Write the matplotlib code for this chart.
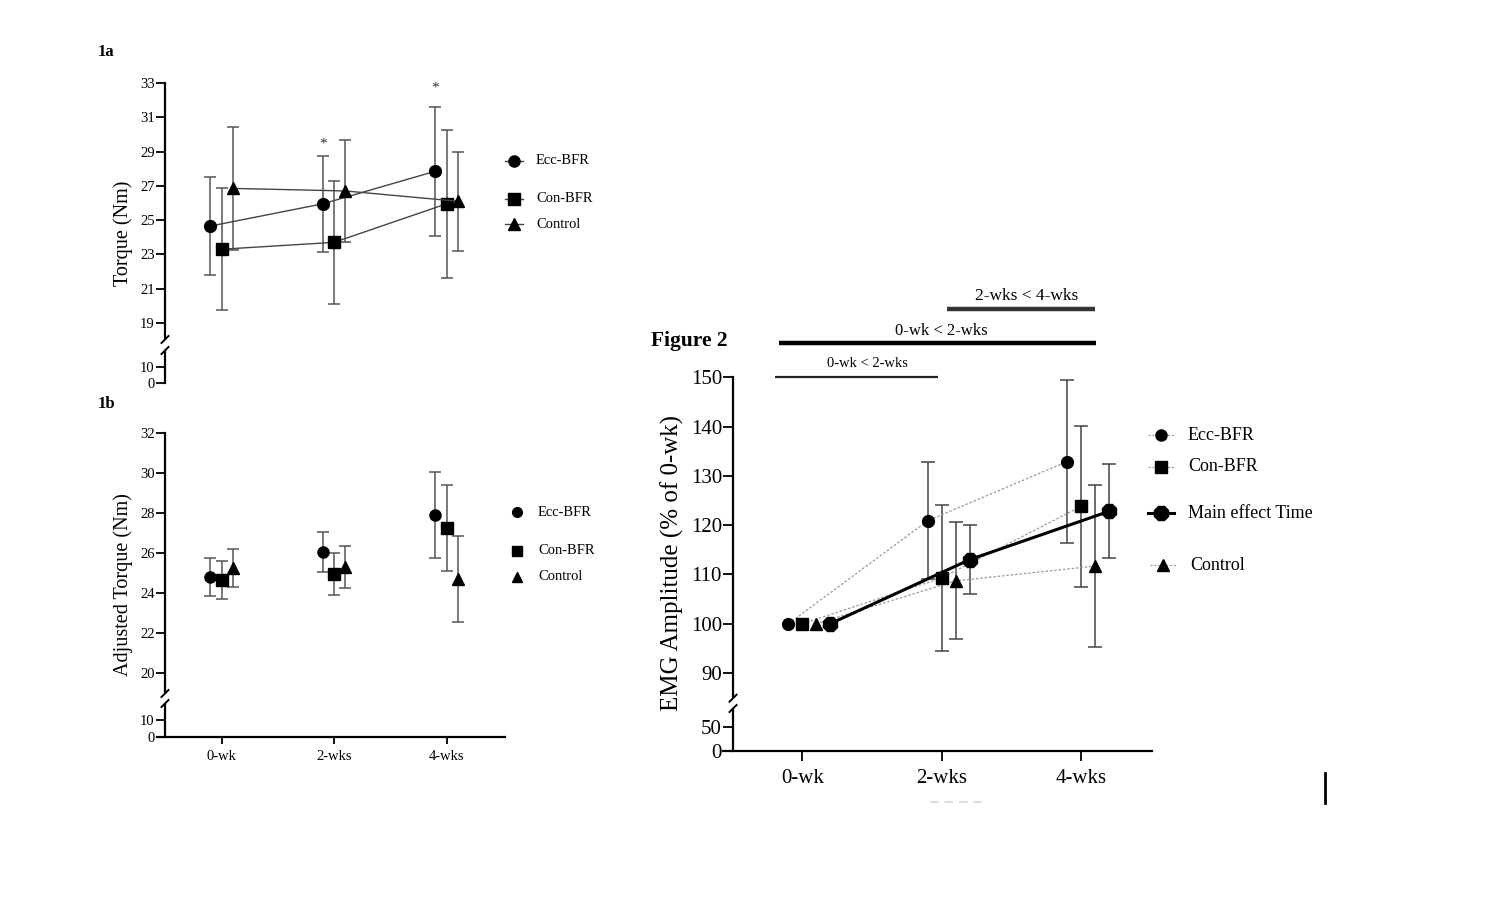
import numpy as np
import matplotlib.pyplot as plt
from matplotlib.lines import Line2D

plt.rcParams['font.family'] = ['Liberation Serif', 'DejaVu Serif']

W, H = 1490, 908

weeks = ['0-wk', '2-wks', '4-wks']
groups = ['Ecc-BFR', 'Con-BFR', 'Control']
markers = ['o', 's', '^']

# 1a  torque (Nm), mean and SD
ecc_torque = [24.65, 25.95, 27.85]
con_torque = [23.3, 23.7, 25.95]
ctrl_torque = [26.85, 26.7, 26.1]
ecc_torque_sd = [2.85, 2.8, 3.75]
con_torque_sd = [3.55, 3.6, 4.3]
ctrl_torque_sd = [3.6, 3.0, 2.9]

# 1b  adjusted torque (Nm)
ecc_adj = [24.8, 26.05, 27.9]
con_adj = [24.65, 24.95, 27.25]
ctrl_adj = [25.25, 25.3, 24.7]
ecc_adj_sd = [0.95, 1.02, 2.15]
con_adj_sd = [0.95, 1.05, 2.15]
ctrl_adj_sd = [0.95, 1.03, 2.15]

# figure 2  EMG amplitude (% of 0-wk)
ecc_emg = [100, 120.9, 132.9]
con_emg = [100, 109.3, 123.8]
ctrl_emg = [100, 108.7, 111.7]
main_emg = [100, 113.0, 122.8]
ecc_emg_sd = [0, 11.9, 16.6]
con_emg_sd = [0, 14.85, 16.4]
ctrl_emg_sd = [0, 11.85, 16.4]
main_emg_sd = [0, 6.95, 9.55]

sig_labels = ['0-wk < 2-wks', '0-wk < 2-wks', '2-wks < 4-wks']

fig = plt.figure(figsize=(W / 100, H / 100), dpi=100)


def px_axes(left, top, right, bottom):
    return fig.add_axes([left / W, 1 - bottom / H, (right - left) / W, (bottom - top) / H])


def fx(px):
    return px / W


def fy(py):
    return 1 - py / H


def broken_pair(left, right, top, brk_hi, brk_lo, bottom, upper_lim, lower_lim,
                xlim, spine_x, show_x, fs, tlen):
    up = px_axes(left, top, right, brk_hi)
    lo = px_axes(left, brk_lo, right, bottom)
    for ax in (up, lo):
        ax.set_xlim(xlim)
        ax.patch.set_alpha(0)
        ax.spines['top'].set_visible(False)
        ax.spines['right'].set_visible(False)
        ax.spines['left'].set_position(('data', spine_x))
        ax.spines['left'].set_linewidth(1.6)
        ax.spines['bottom'].set_linewidth(1.6)
        ax.tick_params(axis='y', length=tlen, width=1.3, pad=1, labelsize=fs)
        ax.tick_params(axis='x', length=tlen, width=1.3, pad=4, labelsize=fs)
    up.set_ylim(upper_lim)
    lo.set_ylim(lower_lim)
    up.spines['bottom'].set_visible(False)
    up.tick_params(bottom=False, labelbottom=False)
    if not show_x:
        lo.spines['bottom'].set_visible(False)
        lo.tick_params(bottom=False, labelbottom=False)
    # break marks
    ppx = (right - left) / (xlim[1] - xlim[0])
    ppy_up = (brk_hi - top) / (upper_lim[1] - upper_lim[0])
    ppy_lo = (bottom - brk_lo) / (lower_lim[1] - lower_lim[0])
    dx = 3.5 / ppx
    up.plot([spine_x - dx, spine_x + dx], [upper_lim[0] - 5 / ppy_up, upper_lim[0] + 2 / ppy_up],
            color='k', lw=1.4, clip_on=False)
    lo.plot([spine_x - dx, spine_x + dx], [lower_lim[1] - 2 / ppy_lo, lower_lim[1] + 5 / ppy_lo],
            color='k', lw=1.4, clip_on=False)
    return up, lo


x = np.arange(3)
offs = [-0.1, 0.0, 0.1]

# ---------------- panel 1a ----------------
xl1 = (-0.574, 2.52)
a_up, a_lo = broken_pair(157, 505, 83, 338, 352, 383, (18.12, 33), (0, 19.4),
                         xl1, -0.503, False, 10.5, 6.5)
a_up.set_yticks(np.arange(19, 34, 2))
a_lo.set_yticks([0, 10])
for vals, sds, m, off in zip([ecc_torque, con_torque, ctrl_torque],
                             [ecc_torque_sd, con_torque_sd, ctrl_torque_sd], markers, offs):
    a_up.errorbar(x + off, vals, yerr=sds, fmt='none', ecolor='#555555',
                  elinewidth=1.1, capsize=4.5, capthick=1.1, zorder=2)
    a_up.plot(x + off, vals, color='#444444', lw=1.0, marker=m, ms=8.5,
              mfc='black', mec='black', zorder=3, clip_on=False)
a_up.text(1 - 0.1, 29.45, '*', ha='center', va='center', fontsize=11, color='#333333')
a_up.text(2 - 0.1, 32.7, '*', ha='center', va='center', fontsize=11, color='#333333')
fig.text(fx(123), fy(233), 'Torque (Nm)', rotation=90, ha='center', va='center', fontsize=14.5)
fig.text(fx(98), fy(52), '1a', ha='left', va='center', fontsize=12, fontweight='bold')

# legend 1a
for lbl, m, py in zip(groups, markers, [161, 199, 224]):
    fig.add_artist(Line2D([fx(505), fx(523)], [fy(py), fy(py)], color='#444444', lw=1.0))
    fig.add_artist(Line2D([fx(514)], [fy(py)], marker=m, ms=8, color='black', lw=0))
    fig.text(fx(536), fy(py), lbl, ha='left', va='center', fontsize=10.5)

# ---------------- panel 1b ----------------
b_up, b_lo = broken_pair(157, 505, 433, 692, 705, 737, (19.05, 32), (0, 18.8),
                         xl1, -0.503, True, 10.5, 6.5)
b_up.set_yticks(np.arange(20, 33, 2))
b_lo.set_yticks([0, 10])
b_lo.set_xticks(x)
b_lo.set_xticklabels(weeks)
b_lo.tick_params(axis='x', length=5)
for vals, sds, m, off in zip([ecc_adj, con_adj, ctrl_adj],
                             [ecc_adj_sd, con_adj_sd, ctrl_adj_sd], markers, offs):
    b_up.errorbar(x + off, vals, yerr=sds, fmt='none', ecolor='#555555',
                  elinewidth=1.1, capsize=4.5, capthick=1.1, zorder=2)
    b_up.plot(x + off, vals, lw=0, marker=m, ms=8, mfc='black', mec='black', zorder=3)
fig.text(fx(123), fy(585), 'Adjusted Torque (Nm)', rotation=90, ha='center', va='center',
         fontsize=14.5)
fig.text(fx(98), fy(404), '1b', ha='left', va='center', fontsize=12, fontweight='bold')

for lbl, m, py in zip(groups, markers, [512, 551, 577]):
    fig.add_artist(Line2D([fx(517)], [fy(py)], marker=m, ms=7, color='black', lw=0))
    fig.text(fx(538), fy(py), lbl, ha='left', va='center', fontsize=10.5)

# ---------------- figure 2 ----------------
xl2 = (-0.569, 2.509)
c_up, c_lo = broken_pair(723, 1152, 377.3, 696.7, 710, 751, (85.2, 150), (0, 84.4),
                         xl2, -0.497, True, 15, 7)
c_up.set_yticks(np.arange(90, 151, 10))
c_lo.set_yticks([0, 50])
c_lo.set_xticks(x)
c_lo.set_xticklabels(weeks)
c_lo.tick_params(axis='x', pad=6)
offs2 = [-0.1, 0.0, 0.1, 0.2]
for vals, sds, m, off in zip([ecc_emg, con_emg, ctrl_emg],
                             [ecc_emg_sd, con_emg_sd, ctrl_emg_sd], markers, offs2):
    c_up.errorbar(x[1:] + off, vals[1:], yerr=sds[1:], fmt='none', ecolor='#444444',
                  elinewidth=1.1, capsize=5, capthick=1.1, zorder=2)
    c_up.plot(x + off, vals, color='#999999', lw=0.9, ls=(0, (2, 1.5)), zorder=2.5)
    c_up.plot(x + off, vals, lw=0, marker=m, ms=8.5, mfc='black', mec='black', zorder=4)
c_up.errorbar(x[1:] + 0.2, main_emg[1:], yerr=main_emg_sd[1:], fmt='none', ecolor='#444444',
              elinewidth=1.1, capsize=5, capthick=1.1, zorder=2)
c_up.plot(x + 0.2, main_emg, color='black', lw=2.2, marker='8', ms=11.5,
          mfc='black', mec='black', zorder=5)

# significance bars
bar_x = [(-0.196, 0.976), (-0.17, 2.11), (1.036, 2.10)]
bar_y = [150.12, 157.0, 163.9]
bar_lw = [1.6, 3.2, 3.2]
bar_col = ['#222222', 'black', '#333333']
txt_x = [0.47, 1.0, 1.61]
txt_y = [152.9, 159.3, 166.4]
txt_fs = [10.5, 12, 12.5]
for (x0, x1), by, lw, col, tx, ty, lbl, fs in zip(bar_x, bar_y, bar_lw, bar_col, txt_x, txt_y,
                                                  sig_labels, txt_fs):
    c_up.plot([x0, x1], [by, by], color=col, lw=lw, clip_on=False, solid_capstyle='butt')
    c_up.text(tx, ty, lbl, ha='center', va='center', fontsize=fs, clip_on=False)

fig.text(fx(672), fy(563), 'EMG Amplitude (% of 0-wk)', rotation=90, ha='center',
         va='center', fontsize=18)
fig.text(fx(651), fy(341), 'Figure 2', ha='left', va='center', fontsize=15.5,
         fontweight='bold')

# legend figure 2
leg2 = [('Ecc-BFR', 'o', 435, 1160.7, 1188, False),
        ('Con-BFR', 's', 467, 1160.7, 1188, False),
        ('Main effect Time', '8', 513, 1160.7, 1188, True),
        ('Control', '^', 565, 1163.3, 1190, False)]
for lbl, m, py, mx, tx, bold in leg2:
    if bold:
        fig.add_artist(Line2D([fx(mx - 13), fx(mx + 13)], [fy(py), fy(py)], color='black', lw=2.2))
        fig.add_artist(Line2D([fx(mx)], [fy(py)], marker=m, ms=10.5, color='black', lw=0))
    else:
        fig.add_artist(Line2D([fx(mx - 13), fx(mx + 13)], [fy(py), fy(py)], color='#999999',
                              lw=0.8, ls=(0, (2, 1.5))))
        fig.add_artist(Line2D([fx(mx)], [fy(py)], marker=m, ms=8, color='black', lw=0))
    fig.text(fx(tx), fy(py), lbl, ha='left', va='center', fontsize=13)

# stray marks of the scan
fig.add_artist(Line2D([fx(1325), fx(1325)], [fy(773), fy(803)], color='black', lw=2))
fig.add_artist(Line2D([fx(930), fx(982)], [fy(802), fy(802)], color='#dddddd', lw=1.5,
                      ls=(0, (4, 3))))

fig.savefig('out.png', dpi=100)
